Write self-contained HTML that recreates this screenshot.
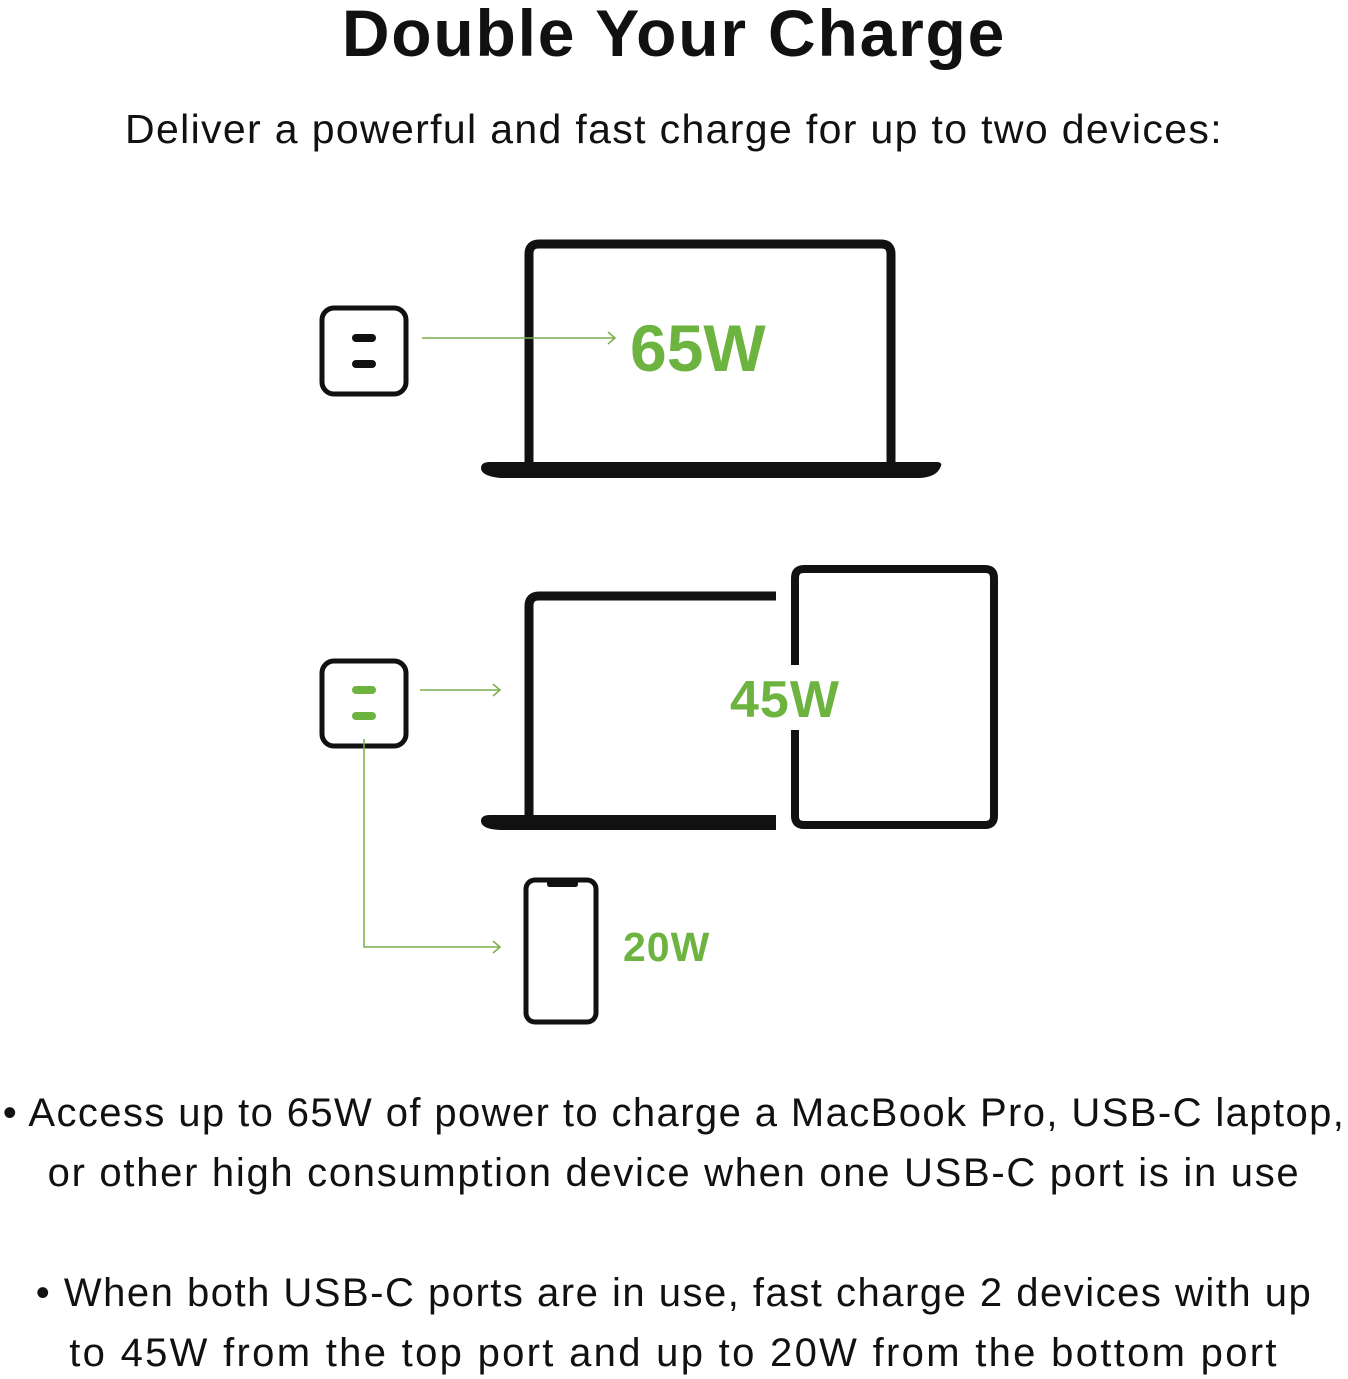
<!DOCTYPE html>
<html><head><style>
body{margin:0;width:1348px;height:1379px;background:#fff;font-family:"Liberation Sans",sans-serif;position:relative;overflow:hidden}
.t{position:absolute;left:0;width:1348px;text-align:center;color:#111;white-space:nowrap}
</style></head><body>
<div class="t" style="top:-5px;font-size:66px;font-weight:bold;letter-spacing:1.8px">Double Your Charge</div>
<div class="t" style="top:106px;font-size:41px;letter-spacing:1.35px">Deliver a powerful and fast charge for up to two devices:</div>
<svg width="1348" height="1379" style="position:absolute;left:0;top:0">
<g fill="none" stroke="#111">
<rect x="322" y="308" width="84" height="86" rx="12" stroke-width="5"/>
<path d="M529 466V254q0-10 10-10h342q10 0 10 10V466" stroke-width="9"/>
<rect x="322" y="661" width="84" height="85" rx="12" stroke-width="5"/>
<path d="M529 822V606q0-10 10-10h237" stroke-width="9"/>
<path d="M795 665V578q0-9 9-9h181q9 0 9 9V816q0 9-9 9H804q-9 0-9-9V730" stroke-width="8"/>
<rect x="526" y="880" width="70" height="142" rx="9" stroke-width="5"/>
</g>
<path d="M481 468Q481 462 490 462H936Q944 462 940 468Q936 477 920 478H500Q481 476 481 468Z" fill="#111"/>
<path d="M481 821Q481 815 490 815H776V830H500Q481 829 481 821Z" fill="#111"/>
<path d="M547 881h31v3q0 3-3 3h-25q-3 0-3-3z" fill="#111"/>
<rect x="352" y="334" width="24" height="8" rx="4" fill="#111"/>
<rect x="352" y="360" width="24" height="8" rx="4" fill="#111"/>
<rect x="352" y="686" width="24" height="8" rx="4" fill="#6db33f"/>
<rect x="352" y="712" width="24" height="8" rx="4" fill="#6db33f"/>
<g fill="none" stroke="#7aaf4a" stroke-width="1.5">
<path d="M422 338H615M608 332l7 6-7 6"/>
<path d="M420 690H500M493 684l7 6-7 6"/>
<path d="M364 739V947H500M493 941l7 6-7 6"/>
</g>
<g fill="#6db33f" font-family="Liberation Sans,sans-serif" font-weight="bold">
<text x="630" y="371" font-size="66" letter-spacing="0">65W</text>
<text x="730" y="717" font-size="52" letter-spacing="1">45W</text>
<text x="623" y="961" font-size="41" letter-spacing="1">20W</text>
</g>
</svg>
<div class="t" style="top:1091px;font-size:40px;letter-spacing:1.4px">• Access up to 65W of power to charge a MacBook Pro, USB-C laptop,</div>
<div class="t" style="top:1151px;font-size:40px;letter-spacing:1.7px">or other high consumption device when one USB-C port is in use</div>
<div class="t" style="top:1271px;font-size:40px;letter-spacing:1.5px">• When both USB-C ports are in use, fast charge 2 devices with up</div>
<div class="t" style="top:1331px;font-size:40px;letter-spacing:2.3px">to 45W from the top port and up to 20W from the bottom port</div>
</body></html>
